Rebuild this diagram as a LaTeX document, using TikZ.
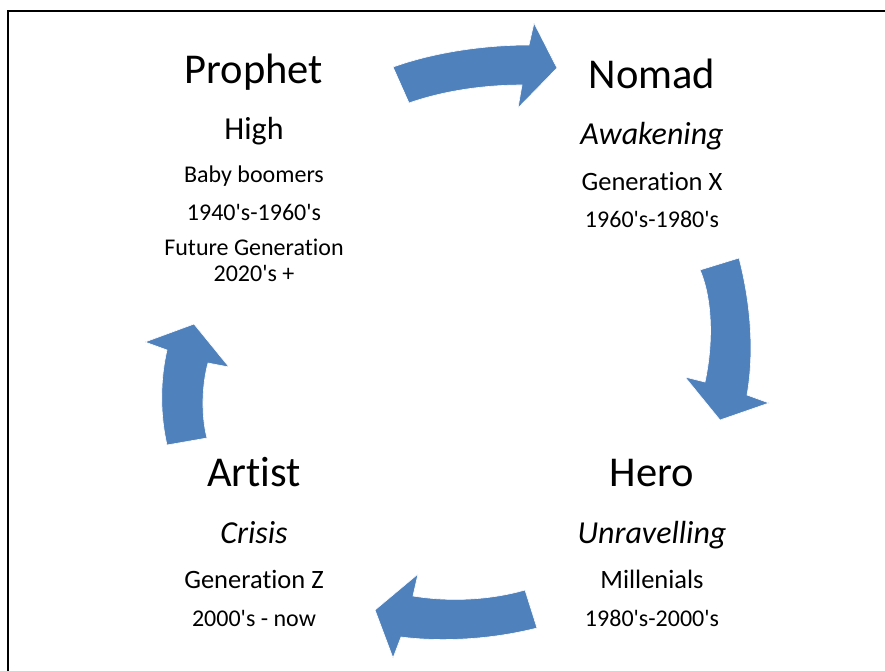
\documentclass[tikz,border=0pt]{standalone}
\usepackage{fontspec}
\setmainfont[Ligatures={CommonOff,TeXOff}]{Carlito}
\definecolor{arrowblue}{HTML}{4F81BD}
\tikzset{
  blockarrow/.style={fill=arrowblue, draw=white, line width=0.6pt, line join=miter},
  titletext/.style={anchor=base, inner sep=0pt, font=\fontsize{42.5}{50}\selectfont},
  phasetext/.style={anchor=base, inner sep=0pt, font=\fontsize{32}{38}\selectfont},
  phaseit/.style={anchor=base, inner sep=0pt, font=\fontsize{32}{38}\selectfont\itshape},
  gentext/.style={anchor=base, inner sep=0pt, font=\fontsize{26.5}{30}\selectfont},
  infotext/.style={anchor=base, inner sep=0pt, font=\fontsize{24}{27}\selectfont},
  frameline/.style={draw=black, line width=2pt}
}
\begin{document}
\begin{tikzpicture}[x=1pt,y=-1pt]
\useasboundingbox (0,0) rectangle (885,670);
\fill[white] (0,0) rectangle (885,670);
% frame (top and left edges)
\coordinate (fbl) at (8,671);
\coordinate (ftl) at (8,10.5);
\coordinate (ftr) at (886,10.5);
\draw[frameline] (fbl) -- (ftl) -- (ftr);

% top arrow (Prophet -> Nomad)
\path[blockarrow] (393,67) .. controls (435,52) and (485,45) .. (529,45)
  -- (534,23) -- (557,68) -- (518,108) -- (522,85)
  .. controls (480,85) and (440,92) .. (409,103) -- cycle;
% right arrow (Nomad -> Hero)
\path[blockarrow] (700,270) -- (739,258)
  .. controls (750,300) and (755,350) .. (747,395)
  -- (769,403) -- (720,420) -- (685,377) -- (705,382)
  .. controls (713,345) and (713,300) .. (700,270) -- cycle;
% bottom arrow (Hero -> Artist)
\path[blockarrow] (525,590) .. controls (490,600) and (450,602) .. (413,596)
  -- (418,574) -- (375,610) -- (393,658) -- (401,637)
  .. controls (440,642) and (490,640) .. (537,628) -- cycle;
% left arrow (Artist -> Prophet)
\path[blockarrow] (167,445) .. controls (160,415) and (160,380) .. (167,350)
  -- (145,342) -- (194,324) -- (229,367) -- (208,363)
  .. controls (202,385) and (201,415) .. (207,438) -- cycle;

% Prophet
\node[titletext] (prophet) at (254,83) {Prophet};
\node[phasetext] (high) at (254,139) {High};
\node[infotext] (boomers) at (254,182) {Baby boomers};
\node[infotext] (boomyears) at (254,220) {1940's-1960's};
\node[infotext] (future) at (254,255) {Future Generation};
\node[infotext] (futureyears) at (254,281) {2020's +};

% Nomad
\node[titletext] (nomad) at (652,88) {Nomad};
\node[phaseit] (awakening) at (652,144) {Awakening};
\node[gentext] (genx) at (652,190) {Generation X};
\node[infotext] (genxyears) at (652,227) {1960's-1980's};

% Artist
\node[titletext] (artist) at (254,486) {Artist};
\node[phaseit] (crisis) at (254,543) {Crisis};
\node[gentext] (genz) at (254,588) {Generation Z};
\node[infotext] (genzyears) at (254,626) {2000's - now};

% Hero
\node[titletext] (hero) at (652,486) {Hero};
\node[phaseit] (unravelling) at (652,543) {Unravelling};
\node[gentext] (millenials) at (652,588) {Millenials};
\node[infotext] (millyears) at (652,626) {1980's-2000's};
\end{tikzpicture}
\end{document}
